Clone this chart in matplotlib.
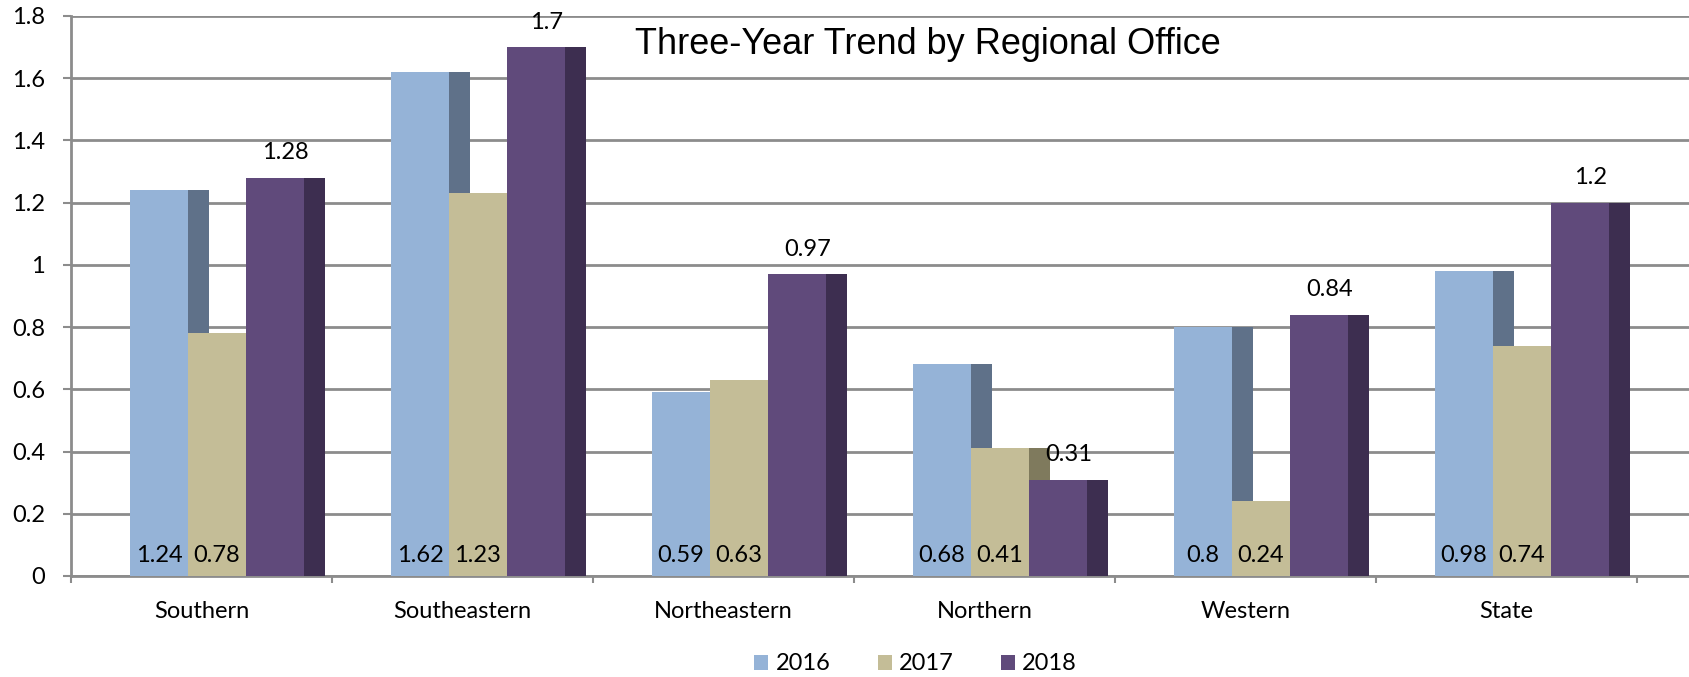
import matplotlib
matplotlib.use('Agg')
import matplotlib.pyplot as plt
from matplotlib.patches import Patch
from matplotlib.ticker import FixedLocator
import numpy as np

categories = ['Southern', 'Southeastern', 'Northeastern', 'Northern', 'Western', 'State']
years = ['2016', '2017', '2018']
v2016 = [1.24, 1.62, 0.59, 0.68, 0.8, 0.98]
v2017 = [0.78, 1.23, 0.63, 0.41, 0.24, 0.74]
v2018 = [1.28, 1.7, 0.97, 0.31, 0.84, 1.2]
yticks = [0, 0.2, 0.4, 0.6, 0.8, 1.0, 1.2, 1.4, 1.6, 1.8]
ytick_labels = ['0', '0.2', '0.4', '0.6', '0.8', '1', '1.2', '1.4', '1.6', '1.8']
title = 'Three-Year Trend by Regional Office'

front_colors = ['#95B3D7', '#C4BD97', '#604A7B']
side_colors = ['#5F7189', '#7F7A5D', '#3D2E50']
FONT = ['Lato', 'DejaVu Sans']
FS = 17
GRAY = '#8C8C8C'

W, H = 1690, 677
fig = plt.figure(figsize=(W / 100, H / 100), dpi=100)
ax = fig.add_axes([71 / W, 101 / H, (W - 71) / W, 560 / H])

x = np.arange(len(categories))
front_w = 0.222
side_w = 0.08
offsets = [-0.274, -0.052, 0.170]
series = [v2016, v2017, v2018]

for i, (vals, off) in enumerate(zip(series, offsets)):
    ax.bar(x + off, vals, width=front_w, align='edge', color=front_colors[i],
           zorder=3 + i, linewidth=0)
    ax.bar(x + off + front_w, vals, width=side_w, align='edge', color=side_colors[i],
           zorder=3 + i, linewidth=0)
    for xi, v in zip(x, vals):
        if i < 2:
            ax.annotate(f'{v:g}', (xi + off + front_w / 2, 0), xytext=(0, 14.5),
                        textcoords='offset points', ha='center', va='center',
                        fontsize=FS, family=FONT, color='black', zorder=10)
        else:
            ax.annotate(f'{v:g}', (xi + off + (front_w + side_w) / 2, v), xytext=(0, 18),
                        textcoords='offset points', ha='center', va='center',
                        fontsize=FS, family=FONT, color='black', zorder=10)

ax.set_xlim(-0.5, -0.5 + (W - 71) / 261)
ax.set_ylim(0, 1.8)

ax.set_yticks(yticks)
ax.set_yticklabels(ytick_labels, fontsize=FS, family=FONT)
ax.set_xticks(x)
ax.set_xticklabels(categories, fontsize=FS, family=FONT)
ax.xaxis.set_minor_locator(FixedLocator(list(np.arange(len(categories) + 1) - 0.5)))
ax.tick_params(axis='x', which='major', length=0, pad=18)
ax.tick_params(axis='x', which='minor', length=5, width=1.5, color=GRAY, direction='out')
ax.tick_params(axis='y', length=5.8, width=1.5, color=GRAY, pad=13)

ax.yaxis.grid(True, color=GRAY, linewidth=2, zorder=0)
ax.set_axisbelow(True)
for s in ['top', 'right']:
    ax.spines[s].set_visible(False)
for s in ['left', 'bottom']:
    ax.spines[s].set_color(GRAY)
    ax.spines[s].set_linewidth(2)

fig.text(927.5 / W, 1 - 54 / H, title, fontsize=26, family='Liberation Sans',
         ha='center', va='baseline')

handles = [Patch(facecolor=c, edgecolor='none', label=y) for c, y in zip(front_colors, years)]
fig.legend(handles=handles, loc='center', bbox_to_anchor=(915.5 / W, 13 / H), ncol=3,
           frameon=False, prop={'family': FONT, 'size': FS}, handlelength=0.6,
           handleheight=0.6, handletextpad=0.3, columnspacing=2.0, borderpad=0)

fig.savefig('out.png', dpi=100)
